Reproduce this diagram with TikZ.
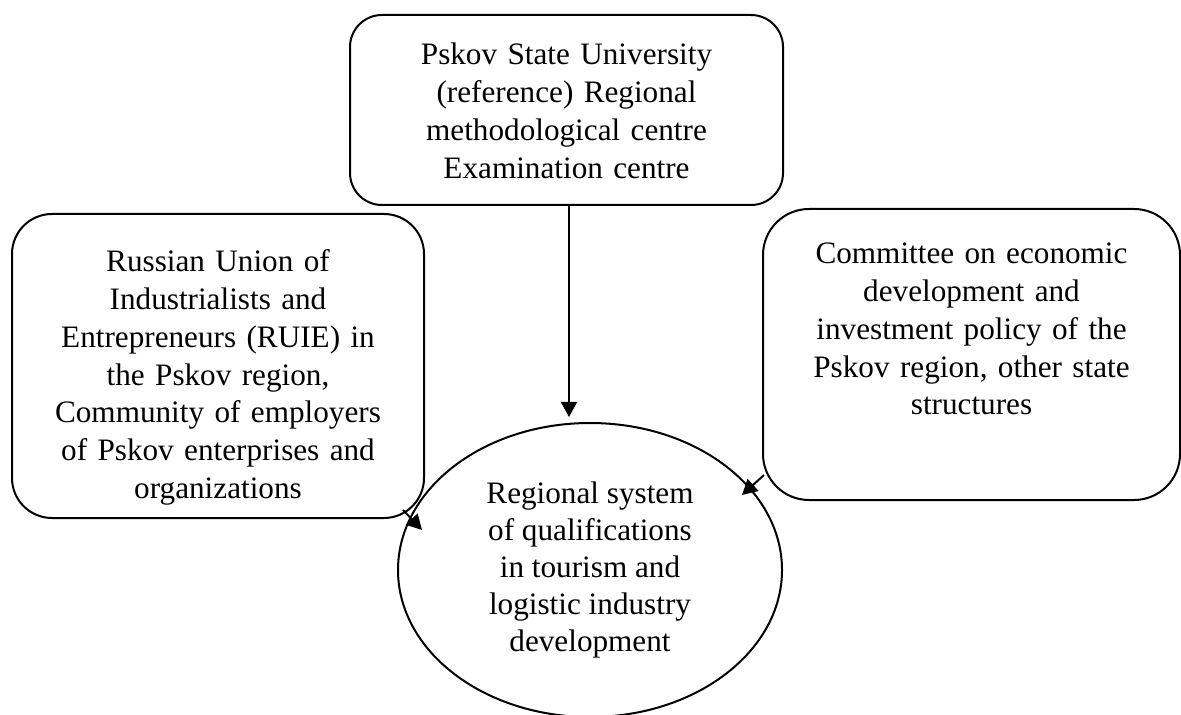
\documentclass[tikz,border=0pt]{standalone}
\usepackage{fontspec}
\setmainfont{Liberation Serif}
\usetikzlibrary{positioning, shapes.geometric, arrows.meta, calc}
\tikzstyle{arrow} = [line width=1pt,-{Triangle[length=7.5pt,width=8pt]}]

\begin{document}
\begin{tikzpicture}[x=0.5pt, y=-0.5pt,
roundbox/.style={rectangle, draw=black, line width=1pt, rounded corners=20pt, align=center, inner sep=0pt, font=\fontsize{15.6}{18.85}\selectfont},
ovalnode/.style={ellipse, draw=black, line width=1pt, align=center, inner sep=0pt, font=\fontsize{15.6}{18.4}\selectfont}
]
\useasboundingbox (0,0) rectangle (1181,715);
\node[roundbox, anchor=north, text width=216.5pt, text height=25pt, text depth=70pt, rounded corners=16pt] (psu) at (566.5,14) {Pskov State University\\(reference) Regional\\methodological centre\\Examination centre};
\node[roundbox, anchor=north, text width=206pt, text height=29pt, text depth=123pt] (ruie) at (218,213) {Russian Union of\\Industrialists and\\Entrepreneurs (RUIE) in\\the Pskov region,\\Community of employers\\of Pskov enterprises and\\organizations};
\node[roundbox, anchor=north, text width=208.5pt, text height=27.5pt, text depth=118pt, rounded corners=23pt] (committee) at (971.5,208) {Committee on economic\\development and\\investment policy of the\\Pskov region, other state\\structures};
\node[ovalnode, minimum width=192pt, minimum height=147pt] (rsq) at (590,570) {Regional system\\of qualifications\\in tourism and\\logistic industry\\development};

\draw[arrow, shorten >=2.5pt] ($(psu.south)+(2.5,0)$) -- ($(psu.south |- rsq.north)+(2.5,0)$);
\draw[arrow] ($(ruie.south east)+(-22,-9)$) -- ($(rsq.center)+(-168,-40)$);
\draw[arrow] ($(committee.south west)+(2,-26)$) -- ($(rsq.center)+(152,-75)$);
\end{tikzpicture}
\end{document}
